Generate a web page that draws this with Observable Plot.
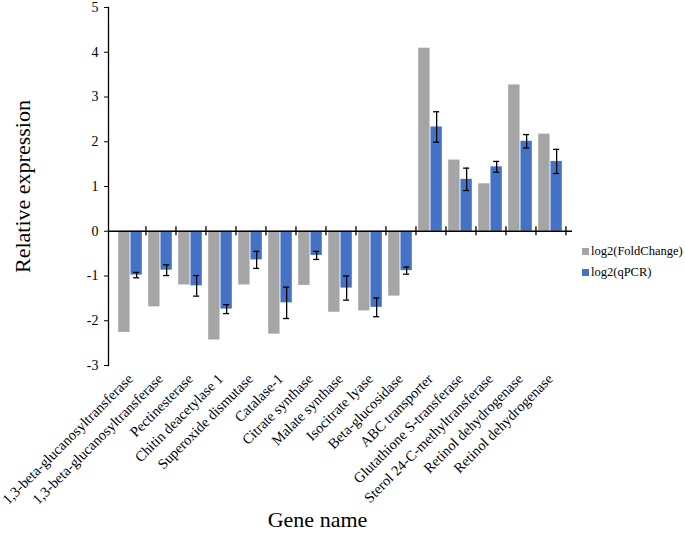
<!DOCTYPE html>
<html>
<head>
<meta charset="utf-8">
<script src="https://cdn.jsdelivr.net/npm/d3@7"></script>
<script src="https://cdn.jsdelivr.net/npm/@observablehq/plot@0.6"></script>
<style>
  body { margin: 0; background: #fff; }
  #wrap { position: relative; width: 685px; height: 534px; font-family: "Liberation Serif", "Times New Roman", serif; }
  #legend { position: absolute; left: 582px; top: 241px; font-size: 12.5px; color: #000; white-space: nowrap; }
  #legend .row { display: flex; align-items: center; height: 21px; }
  #legend .sw { width: 7px; height: 7px; margin-right: 2px; }
</style>
</head>
<body>
<div id="wrap"></div>
<script>
const genes = [
  "1,3-beta-glucanosyltransferase",
  "1,3-beta-glucanosyltransferase",
  "Pectinesterase",
  "Chitin deacetylase 1",
  "Superoxide dismutase",
  "Catalase-1",
  "Citrate synthase",
  "Malate synthase",
  "Isocitrate lyase",
  "Beta-glucosidase",
  "ABC transporter",
  "Glutathione S-transferase",
  "Sterol 24-C-methyltransferase",
  "Retinol dehydrogenase",
  "Retinol dehydrogenase"
];
const foldChange = [-2.26, -1.69, -1.20, -2.43, -1.20, -2.30, -1.21, -1.81, -1.78, -1.45, 4.09, 1.59, 1.06, 3.27, 2.17];
const qpcr       = [-0.98, -0.87, -1.22, -1.74, -0.64, -1.60, -0.54, -1.27, -1.70, -0.88, 2.33, 1.16, 1.44, 2.01, 1.56];
const qpcrErr    = [ 0.06,  0.12,  0.23,  0.10,  0.19,  0.35,  0.09,  0.27,  0.21,  0.08, 0.34, 0.25, 0.12, 0.15, 0.27];
const yTicks = [-3, -2, -1, 0, 1, 2, 3, 4, 5];
const seriesNames = ["log2(FoldChange)", "log2(qPCR)"];
const seriesColors = ["#A5A5A5", "#4472C4"];

const data = genes.map((g, i) => ({key: i, gene: g, fc: foldChange[i], q: qpcr[i], e: qpcrErr[i]}));

const W = 685, H = 534, mL = 108, mR = 113, mT = 7, mB = 169;
const bw = (W - mL - mR) / genes.length;
const pad = 3.2;
const half = bw / 2;
const barW = half - pad;
const blueDx = barW / 2;
const cap = 3.5;
const capInL = half + barW / 2 - cap;
const capInR = pad + barW / 2 - cap;

const chart = Plot.plot({
  width: W, height: H,
  marginLeft: mL, marginRight: mR, marginTop: mT, marginBottom: mB,
  style: {fontFamily: '"Liberation Serif", "Times New Roman", serif', fontSize: "14px", background: "#fff", color: "#000", overflow: "visible"},
  x: {type: "band", domain: d3.range(genes.length), padding: 0, axis: null},
  y: {domain: [-3, 5], axis: null},
  marks: [
    Plot.barY(data, {x: "key", y: "fc", fill: seriesColors[0], insetLeft: pad, insetRight: half}),
    Plot.barY(data, {x: "key", y: "q", fill: seriesColors[1], insetLeft: half, insetRight: pad}),
    Plot.ruleX(data, {x: "key", y1: d => d.q - d.e, y2: d => d.q + d.e, dx: blueDx, stroke: "#000", strokeWidth: 1.3}),
    Plot.tickY(data, {x: "key", y: d => d.q - d.e, insetLeft: capInL, insetRight: capInR, stroke: "#000", strokeWidth: 1.3}),
    Plot.tickY(data, {x: "key", y: d => d.q + d.e, insetLeft: capInL, insetRight: capInR, stroke: "#000", strokeWidth: 1.3}),
    Plot.ruleY([0], {stroke: "#000", strokeWidth: 1.3}),
    Plot.ruleX(data, {x: "key", y1: 0, y2: 0, dx: half, insetTop: -4.5, insetBottom: -4.5, stroke: "#000", strokeWidth: 1.3}),
    Plot.frame({anchor: "left", stroke: "#000", strokeWidth: 1.3}),
    Plot.axisY(yTicks, {tickSize: 4, tickPadding: 6, fontSize: 14, label: null, tickFormat: d => String(d)}),
    Plot.axisX({tickRotate: -45, tickSize: 0, tickPadding: 11, fontSize: 14.5, label: null, tickFormat: i => genes[i]}),
    Plot.text(["Relative expression"], {frameAnchor: "left", textAnchor: "middle", dx: -86, rotate: -90, fontSize: 22}),
    Plot.text(["Gene name"], {frameAnchor: "bottom", dy: 161, dx: -23, fontSize: 22})
  ]
});

const wrap = document.getElementById("wrap");
wrap.appendChild(chart);
const legend = document.createElement("div");
legend.id = "legend";
seriesNames.forEach((n, i) => {
  const row = document.createElement("div");
  row.className = "row";
  const sw = document.createElement("span");
  sw.className = "sw";
  sw.style.background = seriesColors[i];
  const t = document.createElement("span");
  t.textContent = n;
  row.appendChild(sw);
  row.appendChild(t);
  legend.appendChild(row);
});
wrap.appendChild(legend);
</script>
</body>
</html>
